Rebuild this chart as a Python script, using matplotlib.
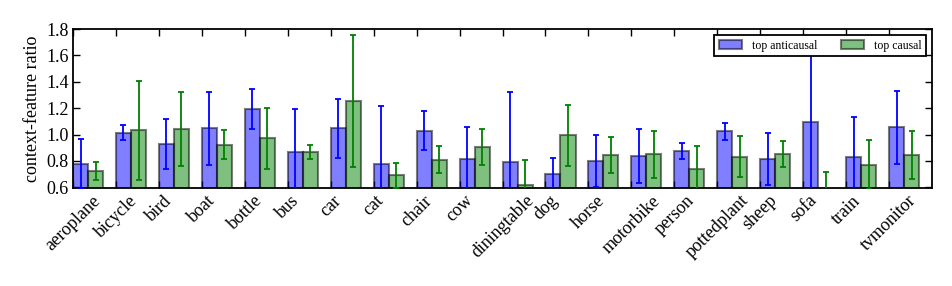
import numpy as np
import matplotlib
matplotlib.use("Agg")
import matplotlib.pyplot as plt

plt.rcParams['font.family'] = 'serif'
plt.rcParams['font.serif'] = ['Liberation Serif', 'DejaVu Serif']

classes = ['aeroplane', 'bicycle', 'bird', 'boat', 'bottle', 'bus', 'car', 'cat',
           'chair', 'cow', 'diningtable', 'dog', 'horse', 'motorbike', 'person',
           'pottedplant', 'sheep', 'sofa', 'train', 'tvmonitor']

anticausal = [0.777, 1.014, 0.931, 1.047, 1.193, 0.865, 1.049, 0.779, 1.029, 0.817,
              0.794, 0.698, 0.799, 0.837, 0.875, 1.024, 0.817, 1.095, 0.827, 1.055]
anticausal_err = [0.19, 0.056, 0.19, 0.275, 0.152, 0.328, 0.224, 0.435, 0.148, 0.24,
                  0.528, 0.124, 0.2, 0.205, 0.064, 0.062, 0.196, 0.6, 0.306, 0.277]

causal = [0.721, 1.032, 1.039, 0.921, 0.971, 0.870, 1.252, 0.691, 0.810, 0.908,
          0.615, 0.994, 0.845, 0.850, 0.736, 0.832, 0.853, 0.52, 0.772, 0.845]
causal_err = [0.068, 0.374, 0.28, 0.11, 0.23, 0.053, 0.5, 0.096, 0.105, 0.135,
              0.19, 0.232, 0.135, 0.178, 0.18, 0.157, 0.098, 0.196, 0.187, 0.18]

ind = np.arange(len(classes))
width = 0.35

fig = plt.figure(figsize=(9.52, 2.86), dpi=100)
ax = fig.add_axes([0.0767, 0.3427, 0.9023, 0.5559])

ax.bar(ind, anticausal, width, align='edge', color='b', alpha=0.5,
       edgecolor='k', linewidth=1.5, label='top anticausal', zorder=2)
ax.bar(ind + width, causal, width, align='edge', color='g', alpha=0.5,
       edgecolor='k', linewidth=1.5, label='top causal', zorder=2)
ax.errorbar(ind + width / 2, anticausal, yerr=anticausal_err, fmt='none',
            ecolor='b', elinewidth=1.3, capsize=2.5, capthick=1.3, zorder=3)
ax.errorbar(ind + 1.5 * width, causal, yerr=causal_err, fmt='none',
            ecolor='g', elinewidth=1.3, capsize=2.5, capthick=1.3, zorder=3)

ax.set_xlim(0, 20)
ax.set_ylim(0.595, 1.8)
ax.set_yticks(np.arange(0.6, 1.81, 0.2))
ax.set_yticklabels(['%.1f' % v for v in np.arange(0.6, 1.81, 0.2)], fontsize=13)
ax.set_xticks(ind)
ax.set_xticklabels(classes, rotation=45, ha='center', fontsize=13)
ax.set_ylabel('context-feature ratio', fontsize=13)
ax.tick_params(direction='in', top=True, right=True, length=5, width=1, pad=3)
for s in ax.spines.values():
    s.set_linewidth(1.3)

leg = ax.legend(loc='upper right', ncol=2, fontsize=8.5, fancybox=False,
                framealpha=1, edgecolor='k', handlelength=2.0,
                columnspacing=2.0, borderaxespad=0.5)
leg.get_frame().set_linewidth(1.3)
leg.set_zorder(5)

fig.savefig('out.png', dpi=100)
